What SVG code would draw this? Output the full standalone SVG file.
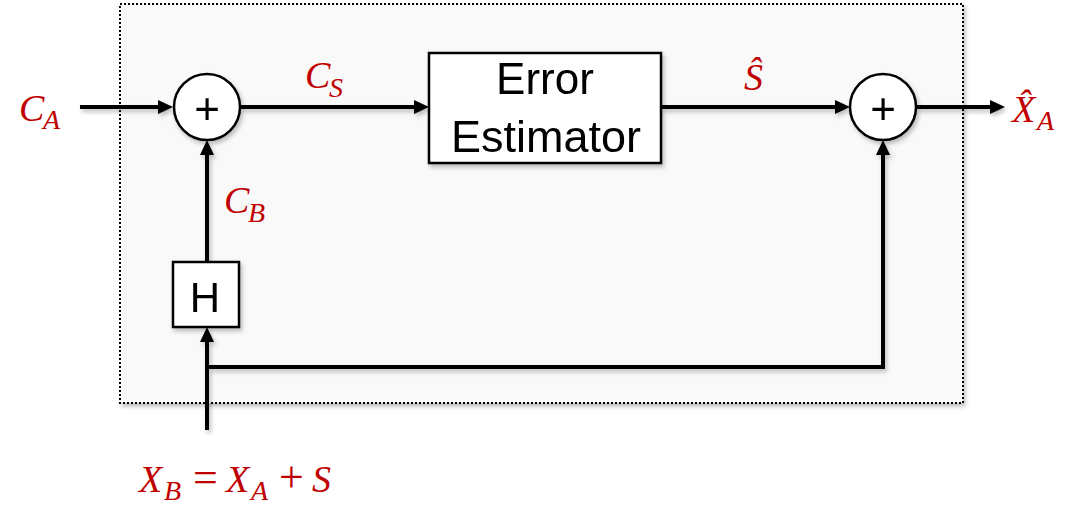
<svg xmlns="http://www.w3.org/2000/svg" width="1087" height="512" viewBox="0 0 1087 512">
<defs>
<filter id="sh" x="-20%" y="-20%" width="140%" height="140%">
<feDropShadow dx="2" dy="3" stdDeviation="2" flood-color="#000" flood-opacity="0.25"/>
</filter>
<marker id="arr" markerUnits="userSpaceOnUse" markerWidth="16" markerHeight="16" refX="5" refY="7" orient="auto">
<path d="M0,0 L15,7 L0,14 z" fill="#000"/>
</marker>
<style>
.blk{fill:#fff;stroke:#000;stroke-width:2.5}
.ln{fill:none;stroke:#000;stroke-width:4}
.lab{font-family:"Liberation Serif","DejaVu Serif",serif;font-style:italic;fill:#C00000}
.big{font-size:38px}
.sub{font-size:28px}
.op{font-size:44px;font-style:normal}
.sans{font-family:"Liberation Sans",Arial,sans-serif;fill:#000}
</style>
</defs>
<g id="container">
<rect x="120" y="4" width="843" height="399" fill="#F9F9F9" stroke="#000" stroke-width="2" stroke-dasharray="2 2" filter="url(#sh)"/>
</g>
<g id="connectors" filter="url(#sh)">
<line class="ln" x1="80" y1="107" x2="163" y2="107" marker-end="url(#arr)"/>
<line class="ln" x1="240" y1="107" x2="419" y2="107" marker-end="url(#arr)"/>
<line class="ln" x1="661" y1="107" x2="840" y2="107" marker-end="url(#arr)"/>
<line class="ln" x1="916" y1="107" x2="995" y2="107" marker-end="url(#arr)"/>
<line class="ln" x1="207" y1="262" x2="207" y2="150" marker-end="url(#arr)"/>
<line class="ln" x1="207" y1="430" x2="207" y2="337" marker-end="url(#arr)"/>
<polyline class="ln" points="207,367 883,367 883,150" marker-end="url(#arr)"/>
</g>
<g id="sum1" filter="url(#sh)">
<circle class="blk" cx="207" cy="107" r="33"/>
<text class="sans" x="207" y="124" font-size="44" text-anchor="middle">+</text>
</g>
<g id="estimator" filter="url(#sh)">
<rect class="blk" x="429" y="53" width="232" height="110"/>
<text class="sans" x="545" y="94" font-size="44" text-anchor="middle">Error</text>
<text class="sans" x="546" y="152" font-size="44" text-anchor="middle" textLength="190" lengthAdjust="spacingAndGlyphs">Estimator</text>
</g>
<g id="sum2" filter="url(#sh)">
<circle class="blk" cx="883" cy="107" r="33"/>
<text class="sans" x="883" y="124" font-size="44" text-anchor="middle">+</text>
</g>
<g id="H" filter="url(#sh)">
<rect class="blk" x="173" y="262" width="66" height="65"/>
<text class="sans" x="205" y="312" font-size="42" text-anchor="middle">H</text>
</g>
<g id="labels">
<text class="lab" x="19" y="121"><tspan class="big">C</tspan><tspan class="sub" x="43" y="129">A</tspan></text>
<text class="lab" x="305" y="88"><tspan class="big">C</tspan><tspan class="sub" x="329" y="97">S</tspan></text>
<text class="lab" x="224" y="213"><tspan class="big">C</tspan><tspan class="sub" x="248" y="222">B</tspan></text>
<text class="lab big" x="744" y="90">Ŝ</text>
<text class="lab" x="1012" y="122"><tspan class="big">X̂</tspan><tspan class="sub" x="1037" y="130">A</tspan></text>
<text class="lab" x="139" y="492"><tspan class="big">X</tspan><tspan class="sub" x="164" y="500">B</tspan><tspan class="op" x="193" y="492">=</tspan><tspan class="big" x="226" y="492">X</tspan><tspan class="sub" x="251" y="500">A</tspan><tspan class="op" x="279" y="492">+</tspan><tspan class="big" x="312" y="492">S</tspan></text>
</g>
</svg>
